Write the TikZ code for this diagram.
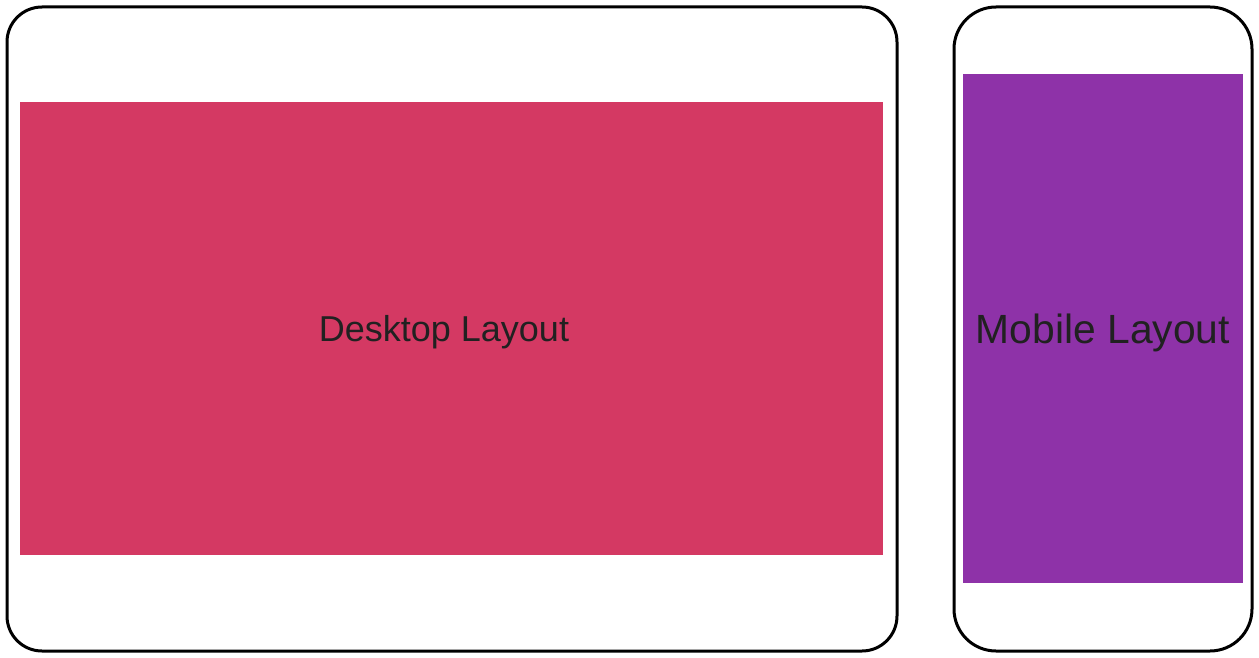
\documentclass[tikz,border=0pt]{standalone}
\usepackage{fontspec}
\setmainfont{Liberation Sans}
\usepackage{xcolor}
\definecolor{desktopred}{HTML}{D43963}
\definecolor{mobilepurple}{HTML}{8E32A8}
\definecolor{labelgray}{HTML}{212121}
\usepackage{tikz}

\begin{document}
\begin{tikzpicture}[x=1pt, y=-1pt,
    frame/.style={draw=black, line width=3pt},
    screen/.style={draw=none, inner sep=0pt},
    caption/.style={inner sep=0pt, text=labelgray}]
    \useasboundingbox (0,0) rectangle (1259,658);
    \draw[frame, rounded corners=35pt] (7,7) rectangle (897,651); % Desktop frame
    \draw[frame, rounded corners=42pt] (954,7) rectangle (1252,651); % Mobile frame
    \node[screen, fill=desktopred, minimum width=863pt, minimum height=453pt] (desktop) at (451.5,328.5) {};
    \node[screen, fill=mobilepurple, minimum width=280pt, minimum height=509pt] (mobile) at (1103,328.5) {};
    \node[caption, font=\fontsize{36}{40}\selectfont] (desktoptext) at ([xshift=-7.5pt, yshift=-4pt]desktop.center) {Desktop Layout};
    \node[caption, font=\fontsize{40.8}{46}\selectfont] (mobiletext) at ([yshift=-4pt]mobile.center) {Mobile Layout};
\end{tikzpicture}
\end{document}
